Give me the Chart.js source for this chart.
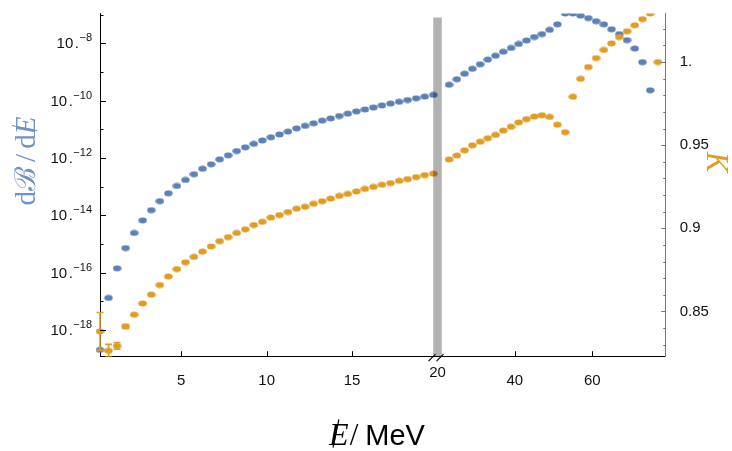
<!DOCTYPE html>
<html>
<head>
<meta charset="utf-8">
<script src="https://cdn.jsdelivr.net/npm/chart.js@4.4.1/dist/chart.umd.min.js"></script>
<style>
  html, body { margin: 0; padding: 0; background: #fff; }
  canvas { display: block; }
</style>
</head>
<body>
<canvas id="myChart" width="732" height="451"></canvas>
<script>
// missing-energy bins, MeV (0.5 MeV bins below the break, 2 MeV bins above)
const energyLow = [0.25, 0.75, 1.25, 1.75, 2.25, 2.75, 3.25, 3.75, 4.25, 4.75,
  5.25, 5.75, 6.25, 6.75, 7.25, 7.75, 8.25, 8.75, 9.25, 9.75,
  10.25, 10.75, 11.25, 11.75, 12.25, 12.75, 13.25, 13.75, 14.25, 14.75,
  15.25, 15.75, 16.25, 16.75, 17.25, 17.75, 18.25, 18.75, 19.25, 19.75];
const energyHigh = [23, 25, 27, 29, 31, 33, 35, 37, 39, 41, 43, 45, 47, 49,
  51, 53, 55, 57, 59, 61, 63, 65, 67, 69, 71, 73, 75, 77];

// dB/dE (left, log axis)
const rateLow = [2.0e-19, 1.3e-17, 1.4e-16, 7.1e-16, 2.4e-15, 6.6e-15, 1.5e-14, 3.1e-14, 5.8e-14, 1.05e-13,
  1.7e-13, 2.7e-13, 4.2e-13, 6.0e-13, 8.9e-13, 1.23e-12, 1.74e-12, 2.34e-12, 3.1e-12, 4.07e-12,
  5.25e-12, 6.6e-12, 8.3e-12, 1.07e-11, 1.32e-11, 1.62e-11, 2.0e-11, 2.4e-11, 2.9e-11, 3.5e-11,
  4.2e-11, 4.9e-11, 5.75e-11, 6.8e-11, 7.9e-11, 9.1e-11, 1.05e-10, 1.2e-10, 1.38e-10, 1.58e-10];
const rateHigh = [3.6e-10, 5.6e-10, 8.7e-10, 1.29e-9, 1.86e-9, 2.7e-9, 3.7e-9, 5.1e-9, 6.9e-9, 9.5e-9,
  1.26e-8, 1.66e-8, 2.1e-8, 2.95e-8, 4.6e-8, 1.1e-7, 1.1e-7, 9.3e-8, 7.6e-8, 5.9e-8,
  4.6e-8, 3.1e-8, 2.1e-8, 1.29e-8, 6.6e-9, 2.2e-9, 2.3e-10, null];

// K (right, linear axis)
const kLow = [0.838, 0.8264, 0.8293, 0.841, 0.8481, 0.8548, 0.8601, 0.8659, 0.871, 0.8755,
  0.8796, 0.8828, 0.886, 0.8891, 0.8923, 0.8947, 0.8972, 0.8994, 0.902, 0.9039,
  0.9065, 0.908, 0.9098, 0.9118, 0.913, 0.9148, 0.9163, 0.9179, 0.9195, 0.9207,
  0.9222, 0.9237, 0.9249, 0.9262, 0.9272, 0.9286, 0.9296, 0.9308, 0.932, 0.9329];
const kHigh = [0.9414, 0.9438, 0.9469, 0.9499, 0.9521, 0.9542, 0.9562, 0.9588, 0.9611, 0.9637,
  0.9657, 0.9672, 0.968, 0.967, 0.9623, 0.9578, 0.9791, 0.9899, 0.997, 1.0024,
  1.0073, 1.0112, 1.015, 1.0185, 1.0221, 1.0258, 1.0292, 1.0];
// error bars on the first K points (only these are visible)
const kErr = [0.0114, 0.0038, 0.002, 0.0012];

const xTickValues = [5, 10, 15, 40, 60];
const xTickLabels = ['5', '10', '15', '40', '60'];
const breakLabel = '20';
const leftTickExps = [-18, -16, -14, -12, -10, -8];
const rightTickValues = [0.85, 0.9, 0.95, 1.0];
const rightTickLabels = ['0.85', '0.9', '0.95', '1.'];

const BLUE = '#5e81b5';
const ORANGE = '#e19c24';
const SANS = '"Liberation Sans", Arial, sans-serif';
const SERIF = '"Liberation Serif", "DejaVu Serif", serif';

// broken energy axis: linear up to 20 MeV, compressed above
const BREAK_AT = 20;
const BREAK_SCALE = 0.2263;
const brk = e => e <= BREAK_AT ? e : BREAK_AT + (e - BREAK_AT) * BREAK_SCALE;

function dot(color) {
  const c = document.createElement('canvas');
  c.width = 9; c.height = 7;
  const g = c.getContext('2d');
  g.fillStyle = color;
  g.beginPath();
  g.ellipse(4.5, 3.5, 4.2, 2.9, 0, 0, Math.PI * 2);
  g.fill();
  return c;
}

const toPts = (xs, ys) => xs.map((e, i) => ({x: brk(e), y: ys[i]}));

function line(ctx, x1, y1, x2, y2) {
  ctx.beginPath(); ctx.moveTo(x1, y1); ctx.lineTo(x2, y2); ctx.stroke();
}

// draws a row of text pieces centred on 0, slashed "E" drawn as E + stroke
function drawPieces(ctx, pieces, baseline) {
  let total = 0;
  pieces.forEach(p => { ctx.font = p.font; p.w = ctx.measureText(p.text).width; total += p.w + (p.gap || 0); });
  let x = -total / 2;
  pieces.forEach(p => {
    ctx.font = p.font;
    ctx.fillStyle = p.color;
    ctx.fillText(p.text, x, baseline);
    if (p.slash) {
      ctx.strokeStyle = p.color; ctx.lineWidth = 1.2;
      line(ctx, x + p.w * 0.2, baseline + p.size * 0.08, x + p.w * 0.5, baseline - p.size * 0.8);
    }
    x += p.w + (p.gap || 0);
  });
}

const frame = {
  id: 'frame',
  afterDatasetsDraw(chart) {
    const {ctx, chartArea: a, scales: {x, k}} = chart;
    ctx.save();
    ctx.beginPath();
    ctx.rect(a.left - 10, a.top, a.right - a.left + 20, a.bottom - a.top);
    ctx.clip();
    ctx.strokeStyle = ORANGE; ctx.lineWidth = 1.6;
    kErr.forEach((e, i) => {
      const px = x.getPixelForValue(brk(energyLow[i]));
      const y1 = k.getPixelForValue(kLow[i] + e), y2 = k.getPixelForValue(kLow[i] - e);
      line(ctx, px, y1, px, y2);
      line(ctx, px - 3.5, y1, px + 3.5, y1);
      line(ctx, px - 3.5, y2, px + 3.5, y2);
    });
    ctx.restore();
    // grey band marking the break
    const b0 = x.getPixelForValue(19.75), b1 = x.getPixelForValue(20.25);
    ctx.save();
    ctx.fillStyle = 'rgba(0,0,0,0.3)';
    ctx.fillRect(b0, a.top + 4, b1 - b0, a.bottom - a.top - 4);
    ctx.restore();
  },
  afterDraw(chart) {
    const {ctx, chartArea: a, scales: {x, y, k}} = chart;
    ctx.save();
    ctx.lineWidth = 1;
    // left ticks (inward)
    ctx.strokeStyle = '#000';
    for (let e = -19; e <= -7; e++) {
      const py = Math.round(y.getPixelForValue(Math.pow(10, e))) + 0.5;
      if (py < a.top - 1 || py > a.bottom + 1) continue;
      line(ctx, a.left, py, a.left + (e % 2 === 0 ? 6 : 3.5), py);
    }
    // left tick labels 10.^-n
    ctx.fillStyle = '#111';
    ctx.textBaseline = 'alphabetic';
    leftTickExps.forEach(e => {
      const py = y.getPixelForValue(Math.pow(10, e));
      ctx.font = '15px ' + SANS;
      const base = '10.';
      const wb = ctx.measureText(base).width + 2;
      ctx.font = '11px ' + SANS;
      const sup = '\u2212' + (-e);
      const ws = ctx.measureText(sup).width;
      const x0 = 92 - wb - ws;
      ctx.font = '15px ' + SANS;
      ctx.fillText('10', x0, py + 5);
      ctx.fillText('.', x0 + ctx.measureText('10').width + 1.5, py + 5);
      ctx.font = '11px ' + SANS;
      ctx.fillText(sup, x0 + wb, py - 2);
    });
    // right ticks (inward, grey)
    ctx.strokeStyle = '#777';
    for (let i = 83; i <= 102; i++) {
      const py = Math.round(k.getPixelForValue(i / 100)) + 0.5;
      if (py < a.top || py > a.bottom) continue;
      line(ctx, a.right - (i % 5 === 0 ? 4.5 : 2.5), py, a.right, py);
    }
    // bottom ticks (inward)
    ctx.strokeStyle = '#000';
    xTickValues.forEach(v => {
      const px = Math.round(x.getPixelForValue(brk(v))) + 0.5;
      line(ctx, px, a.bottom, px, a.bottom - 5.5);
    });
    // break marks //
    const bx = x.getPixelForValue(BREAK_AT) - 1.5;
    ctx.lineWidth = 1.1;
    [-4, 4].forEach(d => line(ctx, bx + d - 3.5, a.bottom + 4.5, bx + d + 3.5, a.bottom - 2.5));
    ctx.font = '15px ' + SANS;
    ctx.textAlign = 'center';
    ctx.textBaseline = 'middle';
    ctx.fillStyle = '#111';
    ctx.fillText(breakLabel, x.getPixelForValue(BREAK_AT), a.bottom + 16);

    // axis titles
    ctx.textAlign = 'left';
    ctx.textBaseline = 'alphabetic';
    // bottom: E/MeV
    ctx.save();
    ctx.translate(377, 445);
    drawPieces(ctx, [
      {text: 'E', font: 'italic 32px ' + SERIF, color: '#000', slash: true, size: 32, gap: 1},
      {text: '/', font: '31px ' + SERIF, color: '#000', gap: 7},
      {text: 'MeV', font: '29px ' + SANS, color: '#000'}
    ], 0);
    ctx.restore();
    // left: dB/dE
    const lc = 'rgb(112,146,199)';
    ctx.save();
    ctx.translate(35, 161);
    ctx.rotate(-Math.PI / 2);
    drawPieces(ctx, [
      {text: 'd\u212C', font: '29px ' + SERIF, color: lc, gap: 5},
      {text: '/', font: '29px ' + SERIF, color: lc, gap: 5},
      {text: 'd', font: '29px ' + SERIF, color: lc},
      {text: 'E', font: 'italic 29px ' + SERIF, color: lc, slash: true, size: 29}
    ], 0);
    ctx.restore();
    // right: K
    ctx.save();
    ctx.translate(707, 162);
    ctx.rotate(Math.PI / 2);
    drawPieces(ctx, [{text: 'K', font: 'italic 31px ' + SERIF, color: ORANGE}], 0);
    ctx.restore();
    ctx.restore();
  }
};

new Chart(document.getElementById('myChart'), {
  type: 'scatter',
  data: {
    datasets: [
      {
        label: 'K',
        data: toPts(energyLow, kLow).concat(toPts(energyHigh, kHigh)),
        yAxisID: 'k',
        pointStyle: dot(ORANGE),
        pointRadius: 3.5,
        clip: {left: 10, right: 10, top: 0, bottom: 0},
        order: 0
      },
      {
        label: 'dB/dE',
        data: toPts(energyLow, rateLow).concat(toPts(energyHigh, rateHigh)),
        yAxisID: 'y',
        pointStyle: dot(BLUE),
        pointRadius: 3.5,
        clip: {left: 10, right: 10, top: 0, bottom: 0},
        order: 1
      }
    ]
  },
  options: {
    responsive: false,
    animation: false,
    events: [],
    layout: {padding: {top: 8, left: 0, right: 0, bottom: 0}},
    plugins: {legend: {display: false}, tooltip: {enabled: false}},
    scales: {
      x: {
        type: 'linear',
        min: 0.25,
        max: brk(79),
        grid: {display: false},
        border: {display: true, color: '#000', width: 1},
        afterBuildTicks: s => { s.ticks = xTickValues.map(v => ({value: brk(v)})); },
        ticks: {
          padding: 7,
          color: '#111',
          maxRotation: 0,
          autoSkip: false,
          font: {family: SANS, size: 15},
          callback: (v, i) => xTickLabels[i]
        },
        afterFit: s => { s.height = 94.3; }
      },
      y: {
        type: 'logarithmic',
        position: 'left',
        min: 1.15e-19,
        max: 1.1e-7,
        grid: {display: false},
        border: {display: true, color: '#000', width: 1},
        ticks: {display: false},
        afterFit: s => { s.width = 100; }
      },
      k: {
        type: 'linear',
        position: 'right',
        min: 0.8228,
        max: 1.0292,
        grid: {display: false},
        border: {display: true, color: '#777', width: 1},
        afterBuildTicks: s => { s.ticks = rightTickValues.map(v => ({value: v})); },
        ticks: {
          padding: 6,
          color: '#111',
          font: {family: SANS, size: 15, lineHeight: 1},
          callback: (v, i) => rightTickLabels[i]
        },
        afterFit: s => { s.width = 66.3; }
      }
    }
  },
  plugins: [frame]
});
</script>
</body>
</html>
